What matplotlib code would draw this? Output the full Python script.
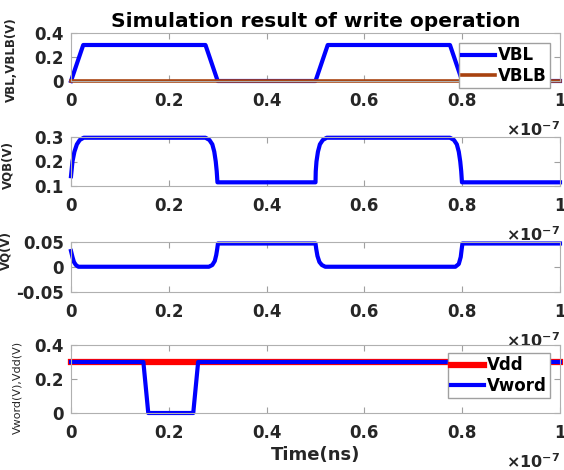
import numpy as np
from matplotlib import pyplot as plt

# time points are in ns, signals in volts
t_vbl = [0, 2.5, 27.5, 30, 50, 52.5, 77.5, 80, 100]
vbl = [0, 0.3, 0.3, 0, 0, 0.3, 0.3, 0, 0]
t_vblb = [0, 100]
vblb = [0, 0]

t_vqb = [0, 0.3, 0.7, 1.2, 1.8, 2.6, 27.5, 28.3, 28.9, 29.3, 29.6, 29.8, 29.95,
         50, 50.05, 50.2, 50.5, 50.9, 51.5, 52.3, 77.5, 78.3, 78.9, 79.3, 79.6,
         79.8, 79.95, 100]
vqb = [0.14, 0.2, 0.24, 0.27, 0.288, 0.297, 0.297, 0.288, 0.27, 0.24, 0.2, 0.16,
       0.115, 0.115, 0.16, 0.2, 0.24, 0.27, 0.288, 0.297, 0.297, 0.288, 0.27,
       0.24, 0.2, 0.16, 0.115, 0.115]

t_vq = [0, 0.3, 0.6, 1.0, 1.5, 28.2, 28.9, 29.4, 29.7, 29.9, 30.05, 50, 50.15,
        50.4, 50.8, 51.3, 52.0, 78.6, 79.3, 79.7, 79.9, 80.05, 100]
vq = [0.032, 0.02, 0.01, 0.004, 0.0005, 0.0005, 0.004, 0.012, 0.024, 0.036, 0.047,
      0.047, 0.036, 0.022, 0.01, 0.004, 0.0005, 0.0005, 0.006, 0.02, 0.036, 0.047,
      0.047]

t_vword = [0, 14.8, 15.8, 25.0, 26.0, 100]
vword = [0.3, 0.3, 0, 0, 0.3, 0.3]
t_vdd = [0, 100]
vdd = [0.3, 0.3]

x_ticks = [0, 0.2e-7, 0.4e-7, 0.6e-7, 0.8e-7, 1e-7]
x_ticklabels = ['0', '0.2', '0.4', '0.6', '0.8', '1']

plt.rcParams['font.family'] = 'DejaVu Sans'
plt.rcParams['font.weight'] = 'bold'
plt.rcParams['mathtext.default'] = 'regular'

W, H = 564, 470
fig = plt.figure(figsize=(W / 100, H / 100), dpi=100)


def make_axes(top, bottom):
    return fig.add_axes([71 / W, 1 - bottom / H, (560 - 71) / W, (bottom - top) / H])


def style_axes(ax, yticks, yticklabels, ylim):
    ax.set_xlim(0, 1e-7)
    ax.set_ylim(*ylim)
    ax.set_xticks(x_ticks)
    ax.set_xticklabels(x_ticklabels)
    ax.set_yticks(yticks)
    ax.set_yticklabels(yticklabels)
    ax.tick_params(direction='in', length=4, width=0.8, color='#a0a0a0',
                   labelsize=12, labelcolor='#262626', top=True, right=True)
    ax.tick_params(axis='x', pad=8)
    ax.tick_params(axis='y', pad=5)
    for s in ax.spines.values():
        s.set_color('#b0b0b0')
        s.set_linewidth(0.8)
    # the x10^-7 label sits ~39 px below the axes bottom
    h_px = ax.get_position().height * H
    ax.text(1.0, -39 / h_px, r'$\times$10$^{-7}$', transform=ax.transAxes,
            ha='right', va='top', fontsize=11.5, color='#262626')


ns = 1e-9

# panel 1
ax1 = make_axes(33, 81)
ax1.plot(np.array(t_vbl) * ns, vbl, color='#0000ff', lw=3, label='VBL', clip_on=False)
ax1.plot(np.array(t_vblb) * ns, vblb, color='#a8420f', lw=2.6, label='VBLB', clip_on=False)
style_axes(ax1, [0, 0.2, 0.4], ['0', '0.2', '0.4'], (0, 0.4))
ax1.set_title('Simulation result of write operation', fontsize=14.5,
              fontweight='bold', pad=4)
ax1.set_ylabel('VBL,VBLB(V)', fontsize=8.5, fontweight='bold', color='#262626')
ax1.yaxis.set_label_coords(-0.108, 0.45)
fig.legend(handles=ax1.get_lines(), loc='upper right',
           bbox_to_anchor=(550 / W, 1 - 43 / H), fontsize=12, frameon=True,
           fancybox=False, edgecolor='#a0a0a0', framealpha=1, handlelength=2.0,
           handletextpad=0.15, borderpad=0.2, labelspacing=0.15, borderaxespad=0)

# panel 2
ax2 = make_axes(137, 186)
ax2.plot(np.array(t_vqb) * ns, vqb, color='#0000ff', lw=3, clip_on=False)
style_axes(ax2, [0.1, 0.2, 0.3], ['0.1', '0.2', '0.3'], (0.1, 0.3))
ax2.set_ylabel('VQB(V)', fontsize=8.5, fontweight='bold', color='#262626')
ax2.yaxis.set_label_coords(-0.115, 0.43)

# panel 3
ax3 = make_axes(242, 292)
ax3.plot(np.array(t_vq) * ns, vq, color='#0000ff', lw=3, clip_on=False)
style_axes(ax3, [-0.05, 0, 0.05], ['-0.05', '0', '0.05'], (-0.05, 0.05))
ax3.set_ylabel('VQ(V)', fontsize=8.5, fontweight='bold', color='#262626')
ax3.yaxis.set_label_coords(-0.12, 0.84)

# panel 4
ax4 = make_axes(345, 413)
ax4.plot(np.array(t_vdd) * ns, vdd, color='#ff0000', lw=4.5, label='Vdd', clip_on=False)
ax4.plot(np.array(t_vword) * ns, vword, color='#0000ff', lw=3, label='Vword', clip_on=False)
style_axes(ax4, [0, 0.2, 0.4], ['0', '0.2', '0.4'], (0, 0.4))
ax4.set_ylabel('Vword(V),Vdd(V)', fontsize=8, fontweight='normal', color='#262626')
ax4.yaxis.set_label_coords(-0.1, 0.38)
ax4.set_xlabel('Time(ns)', fontsize=13, fontweight='bold', color='#262626', labelpad=3)
fig.legend(handles=ax4.get_lines(), loc='upper right',
           bbox_to_anchor=(550 / W, 1 - 353 / H), fontsize=12, frameon=True,
           fancybox=False, edgecolor='#a0a0a0', framealpha=1, handlelength=2.0,
           handletextpad=0.15, borderpad=0.2, labelspacing=0.15, borderaxespad=0)

fig.savefig('out.png', dpi=100)
